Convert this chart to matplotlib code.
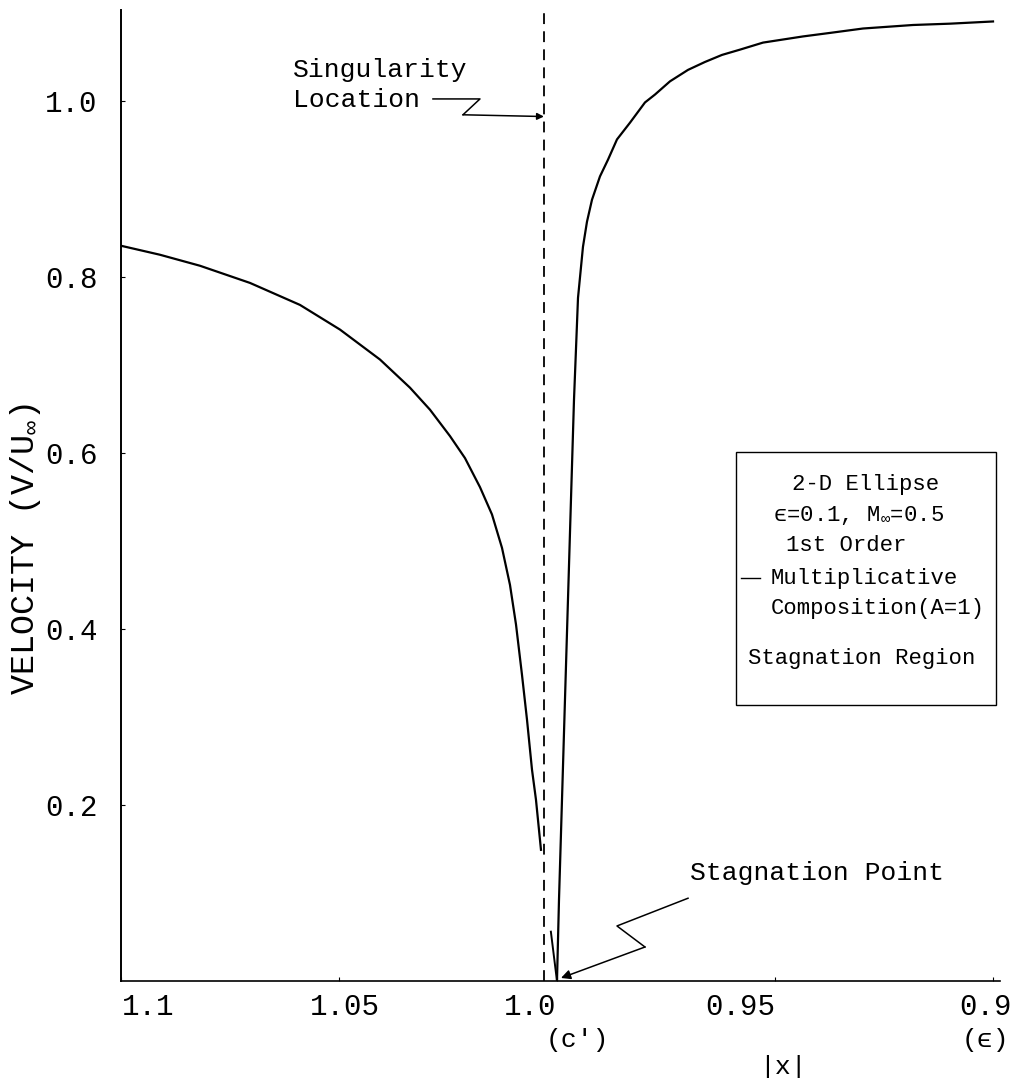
import matplotlib
matplotlib.use("Agg")
import matplotlib.pyplot as plt
import matplotlib.patches as mpatches
import matplotlib.transforms as mtransforms

plt.rcParams["font.family"] = ["Liberation Mono", "DejaVu Sans Mono", "DejaVu Sans"]
plt.rcParams["mathtext.fontset"] = "custom"
plt.rcParams["mathtext.rm"] = "Liberation Mono"
plt.rcParams["mathtext.it"] = "Liberation Mono"
plt.rcParams["mathtext.fallback"] = "stix"

# first-order multiplicative composition, |x| > c' side (left branch)
x_left = [1.0998, 1.09106, 1.08188, 1.07041, 1.05894, 1.04977, 1.0406, 1.03372,
          1.02913, 1.02454, 1.0211, 1.01766, 1.01491, 1.01261, 1.01078, 1.0094,
          1.00803, 1.00688, 1.00573, 1.00482, 1.00367]
v_left = [0.835, 0.825, 0.8125, 0.793, 0.768, 0.740, 0.706, 0.674,
          0.649, 0.619, 0.594, 0.561, 0.530, 0.492, 0.450, 0.405,
          0.348, 0.297, 0.240, 0.206, 0.149]

# short piece running into the stagnation point
x_stag = [1.0014, 1.0]
v_stag = [0.056, 0.0]

# branch from the stagnation point towards the focus
x_right = [1.0, 0.99954, 0.99885, 0.99817, 0.99748, 0.99679, 0.9961, 0.99518,
           0.99404, 0.99312, 0.99197, 0.99014, 0.9883, 0.98624, 0.98326, 0.97982,
           0.97752, 0.97408, 0.96995, 0.96606, 0.96216, 0.95803, 0.95275, 0.94358,
           0.93739, 0.92982, 0.91835, 0.90986, 0.9]
v_right = [0.0, 0.092, 0.206, 0.319, 0.433, 0.547, 0.660, 0.776,
           0.834, 0.8625, 0.8875, 0.914, 0.933, 0.956, 0.975, 0.998,
           1.007, 1.022, 1.035, 1.044, 1.052, 1.058, 1.066, 1.073,
           1.077, 1.082, 1.086, 1.0875, 1.090]

x_singular = 1.0030

x_ticks = [1.1, 1.05, 1.0, 0.95, 0.9]
x_ticklabels = ["1.1", "1.05", "1.0", "0.95", "0.9"]
y_ticks = [0.2, 0.4, 0.6, 0.8, 1.0]
y_ticklabels = ["0.2", "0.4", "0.6", "0.8", "1.0"]

fig = plt.figure(figsize=(10.25, 10.78), dpi=100)
ax = fig.add_axes([0.118, 0.09, 0.8576, 0.9007])
ax.set_xlim(1.1, 0.8984)
ax.set_ylim(0, 1.103)

ax.plot(x_left, v_left, color="black", lw=1.6)
ax.plot(x_stag, v_stag, color="black", lw=1.4)
ax.plot(x_right, v_right, color="black", lw=1.6)
ax.axvline(x_singular, color="black", lw=1.3, ls=(0, (6, 4)))

for side in ("top", "right"):
    ax.spines[side].set_visible(False)
ax.spines["left"].set_linewidth(1.4)
ax.spines["bottom"].set_linewidth(1.2)

ax.set_xticks(x_ticks)
ax.set_xticklabels(x_ticklabels, fontsize=21)
ax.set_yticks(y_ticks)
ax.set_yticklabels(y_ticklabels, fontsize=21)
ax.tick_params(axis="x", length=3, direction="in", pad=9)
ax.tick_params(axis="y", length=3, direction="in", pad=17)

# typed labels sit a little off their ticks
x_label_shift = [0.27, 0.06, -0.27, -0.35, -0.08]
for lab, dx in zip(ax.get_xticklabels(), x_label_shift):
    lab.set_transform(lab.get_transform() +
                      mtransforms.ScaledTranslation(dx, 0, fig.dpi_scale_trans))

ax.set_ylabel(r"VELOCITY (V/U$_{\infty}$)", fontsize=24)
ax.yaxis.set_label_coords(-0.089, 0.445)

fig.text(0.563, 0.035, "(c')", fontsize=19, ha="center", va="center")
fig.text(0.961, 0.035, "(ϵ)", fontsize=19, ha="center", va="center")
fig.text(0.764, 0.010, "|x|", fontsize=19, ha="center", va="center")

# singularity callout
ax.text(1.06055, 1.035, "Singularity", fontsize=19, ha="left", va="center")
ax.text(1.06055, 1.001, "Location", fontsize=19, ha="left", va="center")
ax.plot([1.02844, 1.01766, 1.02156], [1.002, 1.002, 0.984], color="black", lw=1.1)
ax.annotate("", xy=(x_singular, 0.982), xytext=(1.02156, 0.984),
            arrowprops=dict(arrowstyle="-|>", color="black", lw=1.1,
                            mutation_scale=10, shrinkA=0, shrinkB=0))

# stagnation point callout
ax.text(0.9695, 0.1227, "Stagnation Point", fontsize=19, ha="left", va="center")
ax.plot([0.96995, 0.98624, 0.97982], [0.094, 0.0625, 0.0386], color="black", lw=1.1)
ax.annotate("", xy=(0.99908, 0.0034), xytext=(0.97982, 0.0386),
            arrowprops=dict(arrowstyle="-|>", color="black", lw=1.1,
                            mutation_scale=14, shrinkA=0, shrinkB=0))

# key box
ax.add_patch(mpatches.Rectangle((0.6997, 0.2842), 0.2957, 0.2606,
                                transform=ax.transAxes, fill=False,
                                edgecolor="black", lw=1.0))
ax.text(0.8476, 0.5118, "2-D Ellipse", transform=ax.transAxes,
        fontsize=16, ha="center", va="center")
ax.text(0.8385, 0.4789, r"ϵ=0.1, M$_{\infty}$=0.5", transform=ax.transAxes,
        fontsize=16, ha="center", va="center")
ax.text(0.8248, 0.448, "1st Order", transform=ax.transAxes,
        fontsize=16, ha="center", va="center")
ax.plot([0.7053, 0.727], [0.415, 0.415], color="black", lw=1.0,
        transform=ax.transAxes)
ax.text(0.7395, 0.415, "Multiplicative", transform=ax.transAxes,
        fontsize=16, ha="left", va="center")
ax.text(0.7395, 0.3841, "Composition(A=1)", transform=ax.transAxes,
        fontsize=16, ha="left", va="center")
ax.text(0.7133, 0.3326, "Stagnation Region", transform=ax.transAxes,
        fontsize=16, ha="left", va="center")

fig.savefig("out.png", dpi=100)
